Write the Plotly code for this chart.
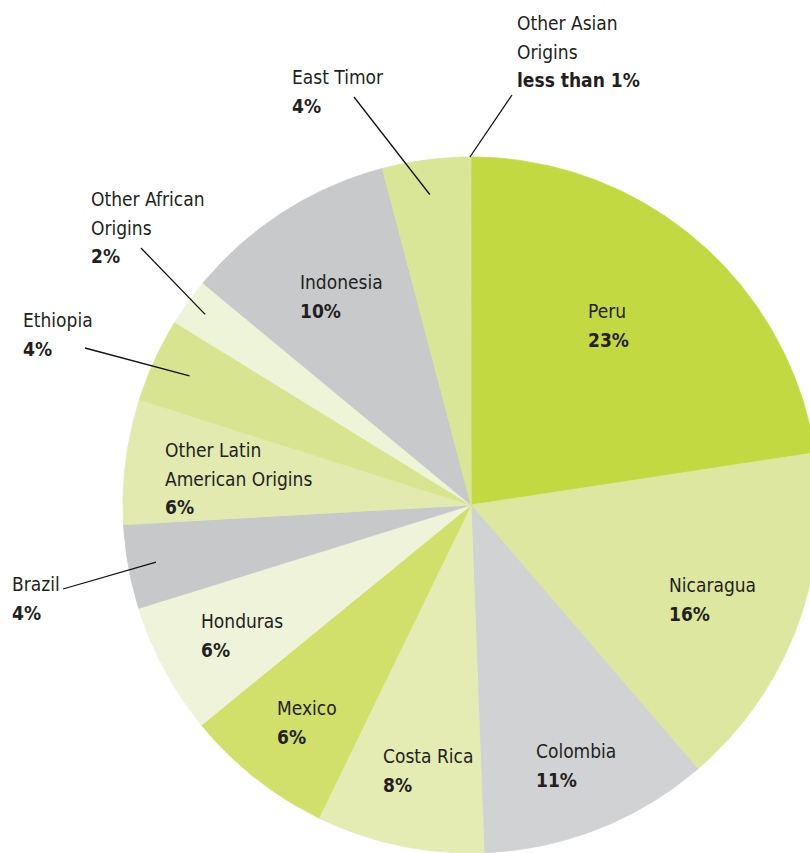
import numpy as np
import plotly.graph_objects as go

# share of coffee by origin, read clockwise from 12 o'clock
origins = [
    "Peru", "Nicaragua", "Colombia", "Costa Rica", "Mexico", "Honduras",
    "Brazil", "Other Latin<br>American Origins", "Ethiopia",
    "Other African<br>Origins", "Indonesia", "East Timor",
    "Other Asian<br>Origins",
]
shares = [22.6, 16.1, 10.7, 7.8, 6.9, 6.1, 3.9, 5.8, 3.9, 2.2, 9.9, 4.0, 0.1]
pct_labels = ["23%", "16%", "11%", "8%", "6%", "6%", "4%", "6%", "4%", "2%",
              "10%", "4%", "less than 1%"]
colors = [
    "#c3d942", "#dee79f", "#d1d2d4", "#e4ebb3", "#d0e06b", "#eef3da",
    "#c7c8ca", "#e2eab0", "#d8e48f", "#eef4d7", "#c8c9cb", "#d9e597",
    "#d9e597",
]

W, H = 810, 853
CX, CY, R = 471, 505, 348  # pie centre / radius in page pixels
FONT = "Liberation Sans Narrow, DejaVu Sans Condensed, sans-serif"
TXT = "#231f20"

# label block: left x, vertical middle y (pixels)
label_pos = {
    "Peru": (586, 325), "Nicaragua": (667, 599), "Colombia": (534, 765),
    "Costa Rica": (381, 770), "Mexico": (275, 722), "Honduras": (199, 635),
    "Brazil": (10, 598), "Other Latin<br>American Origins": (163, 478),
    "Ethiopia": (21, 334), "Other African<br>Origins": (89, 227),
    "Indonesia": (298, 296), "East Timor": (290, 91),
    "Other Asian<br>Origins": (515, 51),
}
# leader lines: outer end (pixels), inner end as fraction of radius on slice mid-angle
leaders = {
    "Other Asian<br>Origins": ((512, 95), 1.0),
    "East Timor": ((354, 97), 0.90),
    "Other African<br>Origins": ((141, 248), 0.94),
    "Ethiopia": ((85, 348), 0.89),
    "Brazil": ((63, 589), 0.92),
}


def polar(theta, r):
    # theta in degrees clockwise from top; y grows downwards (reversed axis)
    t = np.radians(theta)
    return CX + r * np.sin(t), CY - r * np.cos(t)


def span(s, bold=False):
    # small glyphs, but line spacing still follows the annotation's 22px font
    parts = [f'<span style="font-size:19px">{p}</span>' for p in s.split("<br>")]
    out = "<br>".join(parts)
    return f"<b>{out}</b>" if bold else out


total = sum(shares)
ends = np.cumsum(shares) / total * 360
starts = np.concatenate([[0], ends[:-1]])

fig = go.Figure()
mids = {}
for name, val, pct, col, a0, a1 in zip(origins, shares, pct_labels, colors, starts, ends):
    n = max(int((a1 - a0) * 2), 4)
    th = np.linspace(a0, a1, n)
    ax, ay = polar(th, R)
    xs = np.concatenate([[CX], ax, [CX]])
    ys = np.concatenate([[CY], ay, [CY]])
    fig.add_trace(
        go.Scatter(
            x=xs, y=ys, mode="lines", fill="toself", fillcolor=col,
            line=dict(color=col, width=0.8),
            hoverinfo="text", text=f"{name.replace('<br>', ' ')}: {pct}",
            showlegend=False,
        )
    )
    mids[name] = (a0 + a1) / 2

for name, pct in zip(origins, pct_labels):
    x, y = label_pos[name]
    fig.add_annotation(
        x=x, y=y, xref="x", yref="y", xanchor="left", yanchor="middle",
        text=span(name) + "<br>" + span(pct, bold=True),
        showarrow=False, align="left",
        font=dict(family=FONT, size=22, color=TXT),
    )

for name, ((ox, oy), frac) in leaders.items():
    ix, iy = polar(mids[name], R * frac)
    fig.add_shape(
        type="line", xref="x", yref="y", x0=ox, y0=oy, x1=ix, y1=iy,
        line=dict(color="#111111", width=1.3),
    )

fig.update_layout(
    width=W, height=H,
    margin=dict(l=0, r=0, t=0, b=0),
    paper_bgcolor="white", plot_bgcolor="white",
    xaxis=dict(range=[0, W], visible=False, fixedrange=True),
    yaxis=dict(range=[H, 0], visible=False, fixedrange=True),
)

fig.write_html(
    "out.html",
    config={"displayModeBar": False},
    post_script="document.body.style.margin='0';",
)
